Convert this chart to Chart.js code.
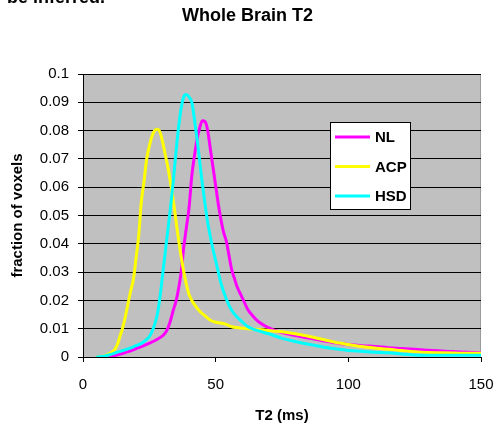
<!DOCTYPE html>
<html>
<head>
<meta charset="utf-8">
<script src="https://cdn.jsdelivr.net/npm/chart.js@4.4.0/dist/chart.umd.min.js"></script>
<style>
  html, body { margin: 0; padding: 0; background: #fff; }
  canvas { display: block; }
</style>
</head>
<body>
<canvas id="t2-chart" width="495" height="425"></canvas>
<script>
// T2 分布 (ms) - 每条曲线自己的采样点
const nlT = [5, 8, 10, 12, 14, 16, 18, 20, 22, 24, 26, 28, 30, 31, 32, 33, 34, 35, 36, 37, 38, 39, 40, 41, 42, 43, 44, 45, 46, 47, 48, 49, 50, 51, 52, 53, 54, 55, 56, 57, 58, 60, 62, 64, 66, 68, 70, 75, 80, 85, 90, 95, 100, 105, 110, 115, 120, 125, 130, 135, 140, 145, 150];
const nlV = [0, 0, 0.0001, 0.0005, 0.001, 0.0016, 0.0022, 0.003, 0.0037, 0.0045, 0.0053, 0.0063, 0.0075, 0.0085, 0.0102, 0.013, 0.0165, 0.0195, 0.024, 0.030, 0.039, 0.046, 0.053, 0.064, 0.071, 0.077, 0.081, 0.0835, 0.0832, 0.080, 0.0735, 0.067, 0.0605, 0.054, 0.0485, 0.044, 0.041, 0.036, 0.031, 0.028, 0.025, 0.021, 0.017, 0.0145, 0.0126, 0.0113, 0.0103, 0.0086, 0.0076, 0.0067, 0.0058, 0.0050, 0.0044, 0.0040, 0.0037, 0.0033, 0.0030, 0.0027, 0.0024, 0.0021, 0.0019, 0.0017, 0.0015];

const acpT = [5, 8, 10, 12, 13, 14, 15, 16, 17, 18, 19, 20, 21, 22, 23, 24, 25, 26, 27, 28, 29, 30, 31, 32, 33, 34, 35, 36, 37, 38, 39, 40, 42, 44, 46, 48, 50, 52, 54, 56, 58, 60, 62, 65, 70, 75, 80, 85, 90, 95, 100, 105, 110, 115, 120, 125, 130, 135, 140, 145, 150];
const acpV = [0, 0.0004, 0.0012, 0.0027, 0.0045, 0.0075, 0.0105, 0.0145, 0.019, 0.0235, 0.0275, 0.035, 0.043, 0.055, 0.062, 0.070, 0.0745, 0.078, 0.080, 0.0805, 0.0795, 0.076, 0.0715, 0.067, 0.0615, 0.0555, 0.0485, 0.0415, 0.0355, 0.030, 0.0255, 0.022, 0.0185, 0.0162, 0.0145, 0.013, 0.0123, 0.012, 0.0115, 0.0107, 0.0104, 0.0102, 0.0100, 0.0098, 0.0094, 0.0089, 0.0082, 0.0073, 0.0063, 0.0052, 0.0044, 0.0037, 0.0032, 0.0027, 0.0023, 0.0019, 0.0016, 0.0015, 0.0014, 0.0013, 0.0013];

const hsdT = [5, 8, 10, 12, 14, 16, 18, 20, 22, 24, 25, 26, 27, 28, 29, 30, 31, 32, 33, 34, 35, 36, 37, 38, 39, 40, 41, 42, 43, 44, 45, 46, 47, 48, 49, 50, 51, 52, 54, 56, 58, 60, 62, 65, 70, 75, 80, 85, 90, 95, 100, 105, 110, 115, 120, 125, 130, 140, 150];
const hsdV = [0, 0.0003, 0.0008, 0.0014, 0.002, 0.0026, 0.0032, 0.004, 0.0048, 0.0062, 0.0072, 0.009, 0.0115, 0.015, 0.021, 0.029, 0.037, 0.045, 0.053, 0.062, 0.072, 0.081, 0.088, 0.092, 0.0928, 0.0918, 0.090, 0.084, 0.077, 0.069, 0.061, 0.054, 0.0475, 0.0425, 0.038, 0.034, 0.030, 0.026, 0.0205, 0.0165, 0.0142, 0.0124, 0.0108, 0.0096, 0.0082, 0.0066, 0.0055, 0.0045, 0.0036, 0.0029, 0.0023, 0.0020, 0.0017, 0.0015, 0.0011, 0.0007, 0.0006, 0.0006, 0.0006];

const seriesNames = ['NL', 'ACP', 'HSD'];
const seriesColors = ['#ff00ff', '#ffff00', '#00ffff'];
const xTicks = [0, 50, 100, 150];
const yMax = 0.1;
const yStep = 0.01;

const toPoints = (xs, ys) => xs.map((x, i) => ({ x: x, y: ys[i] }));

// 灰色绘图区 + 上/右边框
const plotBackground = {
    id: 'plotBackground',
    beforeDraw(chart) {
        const { ctx, chartArea: a } = chart;
        ctx.save();
        ctx.fillStyle = '#c0c0c0';
        ctx.fillRect(a.left, a.top, a.right - a.left, a.bottom - a.top);
        ctx.strokeStyle = '#9a9a9a';
        ctx.lineWidth = 1;
        ctx.beginPath();
        ctx.moveTo(a.left, a.top + 0.5);
        ctx.lineTo(a.right - 0.5, a.top + 0.5);
        ctx.lineTo(a.right - 0.5, a.bottom);
        ctx.stroke();
        ctx.restore();
    },
    afterDraw(chart) {
        // 截图顶部被裁掉的一行文字
        const ctx = chart.ctx;
        ctx.save();
        ctx.fillStyle = '#000';
        ctx.font = 'bold 18px "Liberation Sans", Arial, sans-serif';
        ctx.textBaseline = 'alphabetic';
        ctx.fillText('be inferred.', 7, 3);
        ctx.restore();
    }
};

// 图内图例 (Excel 风格)
const boxLegend = {
    id: 'boxLegend',
    afterDatasetsDraw(chart) {
        const ctx = chart.ctx;
        const bx = 330, by = 122, bw = 81, bh = 88;
        ctx.save();
        ctx.fillStyle = '#fff';
        ctx.fillRect(bx, by, bw, bh);
        ctx.strokeStyle = '#000';
        ctx.lineWidth = 1;
        ctx.strokeRect(bx + 0.5, by + 0.5, bw - 1, bh - 1);
        ctx.font = 'bold 15px "Liberation Sans", Arial, sans-serif';
        ctx.textBaseline = 'middle';
        ctx.textAlign = 'left';
        chart.data.datasets.forEach((ds, i) => {
            const y = by + 15 + i * 29.5;
            ctx.strokeStyle = ds.borderColor;
            ctx.lineWidth = 3;
            ctx.beginPath();
            ctx.moveTo(bx + 5, y);
            ctx.lineTo(bx + 40, y);
            ctx.stroke();
            ctx.fillStyle = '#000';
            ctx.fillText(ds.label, bx + 45, y + 1);
        });
        ctx.restore();
    }
};

const ctx = document.getElementById('t2-chart').getContext('2d');
new Chart(ctx, {
    type: 'scatter',
    data: {
        datasets: [
            { label: seriesNames[0], data: toPoints(nlT, nlV), order: 3 },
            { label: seriesNames[1], data: toPoints(acpT, acpV), order: 2 },
            { label: seriesNames[2], data: toPoints(hsdT, hsdV), order: 1 }
        ].map((ds, i) => Object.assign(ds, {
            showLine: true,
            borderColor: seriesColors[i],
            backgroundColor: seriesColors[i],
            borderWidth: 3,
            pointRadius: 0,
            cubicInterpolationMode: 'monotone'
        }))
    },
    options: {
        responsive: false,
        animation: false,
        layout: { padding: { left: 14, right: 14, top: 0, bottom: 0 } },
        plugins: {
            legend: { display: false },
            tooltip: { enabled: false },
            title: {
                display: true,
                text: 'Whole Brain T2',
                color: '#000',
                font: { family: '"Liberation Sans", Arial, sans-serif', size: 18, weight: 'bold' },
                padding: { top: 5, bottom: 47.4 }
            }
        },
        scales: {
            x: {
                type: 'linear',
                min: 0,
                max: 150,
                afterBuildTicks(scale) { scale.ticks = xTicks.map(v => ({ value: v })); },
                afterFit(scale) {
                    scale.height = 68;
                    scale.paddingLeft = 0;
                    scale.paddingRight = 0;
                },
                border: { color: '#000', width: 1 },
                grid: { drawOnChartArea: false, drawTicks: true, tickLength: 5, color: '#000' },
                ticks: {
                    color: '#000',
                    padding: 14,
                    maxRotation: 0,
                    font: { family: '"Liberation Sans", Arial, sans-serif', size: 15 }
                },
                title: {
                    display: true,
                    text: 'T2 (ms)',
                    color: '#000',
                    font: { family: '"Liberation Sans", Arial, sans-serif', size: 15, weight: 'bold' },
                    padding: { top: 4, bottom: 0 }
                }
            },
            y: {
                min: 0,
                max: yMax,
                afterFit(scale) { scale.width = 69; },
                border: { color: '#000', width: 1 },
                grid: { color: '#000', lineWidth: 1, tickLength: 5 },
                ticks: {
                    stepSize: yStep,
                    color: '#000',
                    padding: 9,
                    font: { family: '"Liberation Sans", Arial, sans-serif', size: 15 },
                    callback: v => String(parseFloat(v.toFixed(3)))
                },
                title: {
                    display: true,
                    text: 'fraction of voxels',
                    color: '#000',
                    font: { family: '"Liberation Sans", Arial, sans-serif', size: 15, weight: 'bold' },
                    padding: { top: -5, bottom: 0 }
                }
            }
        }
    },
    plugins: [plotBackground, boxLegend]
});
</script>
</body>
</html>
